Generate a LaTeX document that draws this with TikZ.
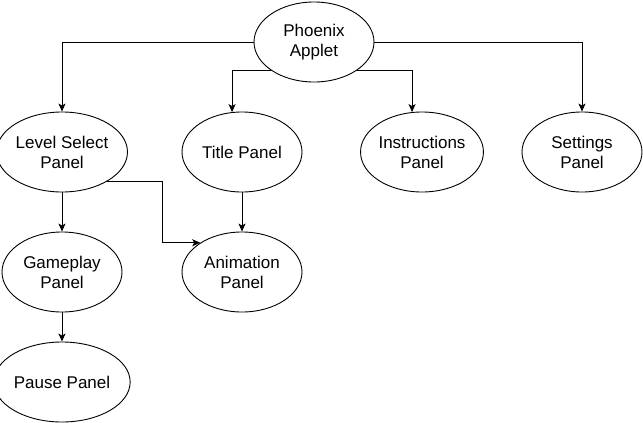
\documentclass[tikz,border=0pt]{standalone}
\usepackage{fontspec}
\setmainfont{Liberation Sans}
\usetikzlibrary{arrows.meta,shapes.geometric,calc}
\begin{document}
\begin{tikzpicture}[x=1pt,y=-1pt,
  panel/.style={ellipse,draw,line width=0.9pt,fill=white,minimum width=120pt,minimum height=80pt,inner sep=0pt,align=center,font=\fontsize{17}{20}\selectfont},
  conn/.style={line width=0.9pt,-{Stealth[length=8pt,width=7pt,inset=2pt]}}]
\useasboundingbox (0,0) rectangle (643,423);
\node[panel] (phoenix) at (314,42) {Phoenix\\Applet};
\node[panel] (level) at (62,152) {Level Select\\Panel};
\node[panel] (title) at (242,152) {Title Panel};
\node[panel] (instr) at (422,152) {Instructions\\Panel};
\node[panel] (settings) at (582,152) {Settings\\Panel};
\node[panel] (game) at (62,272) {Gameplay\\Panel};
\node[panel] (anim) at (242,272) {Animation\\Panel};
\node[panel] (pause) at (62,382) {Pause Panel};
\coordinate (j) at (162,0);
\draw[conn] (phoenix.west) -| (level.north);
\draw[conn] (phoenix.east) -| (settings.north);
\draw[conn] (phoenix.213) -| (title.104);
\draw[conn] (phoenix.-33) -| (instr.104);
\draw[conn] (level.south) -- (game.north);
\draw[conn] (title.south) -- (anim.north);
\draw[conn] (game.south) -- (pause.north);
\draw[conn] (level.-33) -| (j |- anim.145) -- (anim.145);
\end{tikzpicture}
\end{document}
